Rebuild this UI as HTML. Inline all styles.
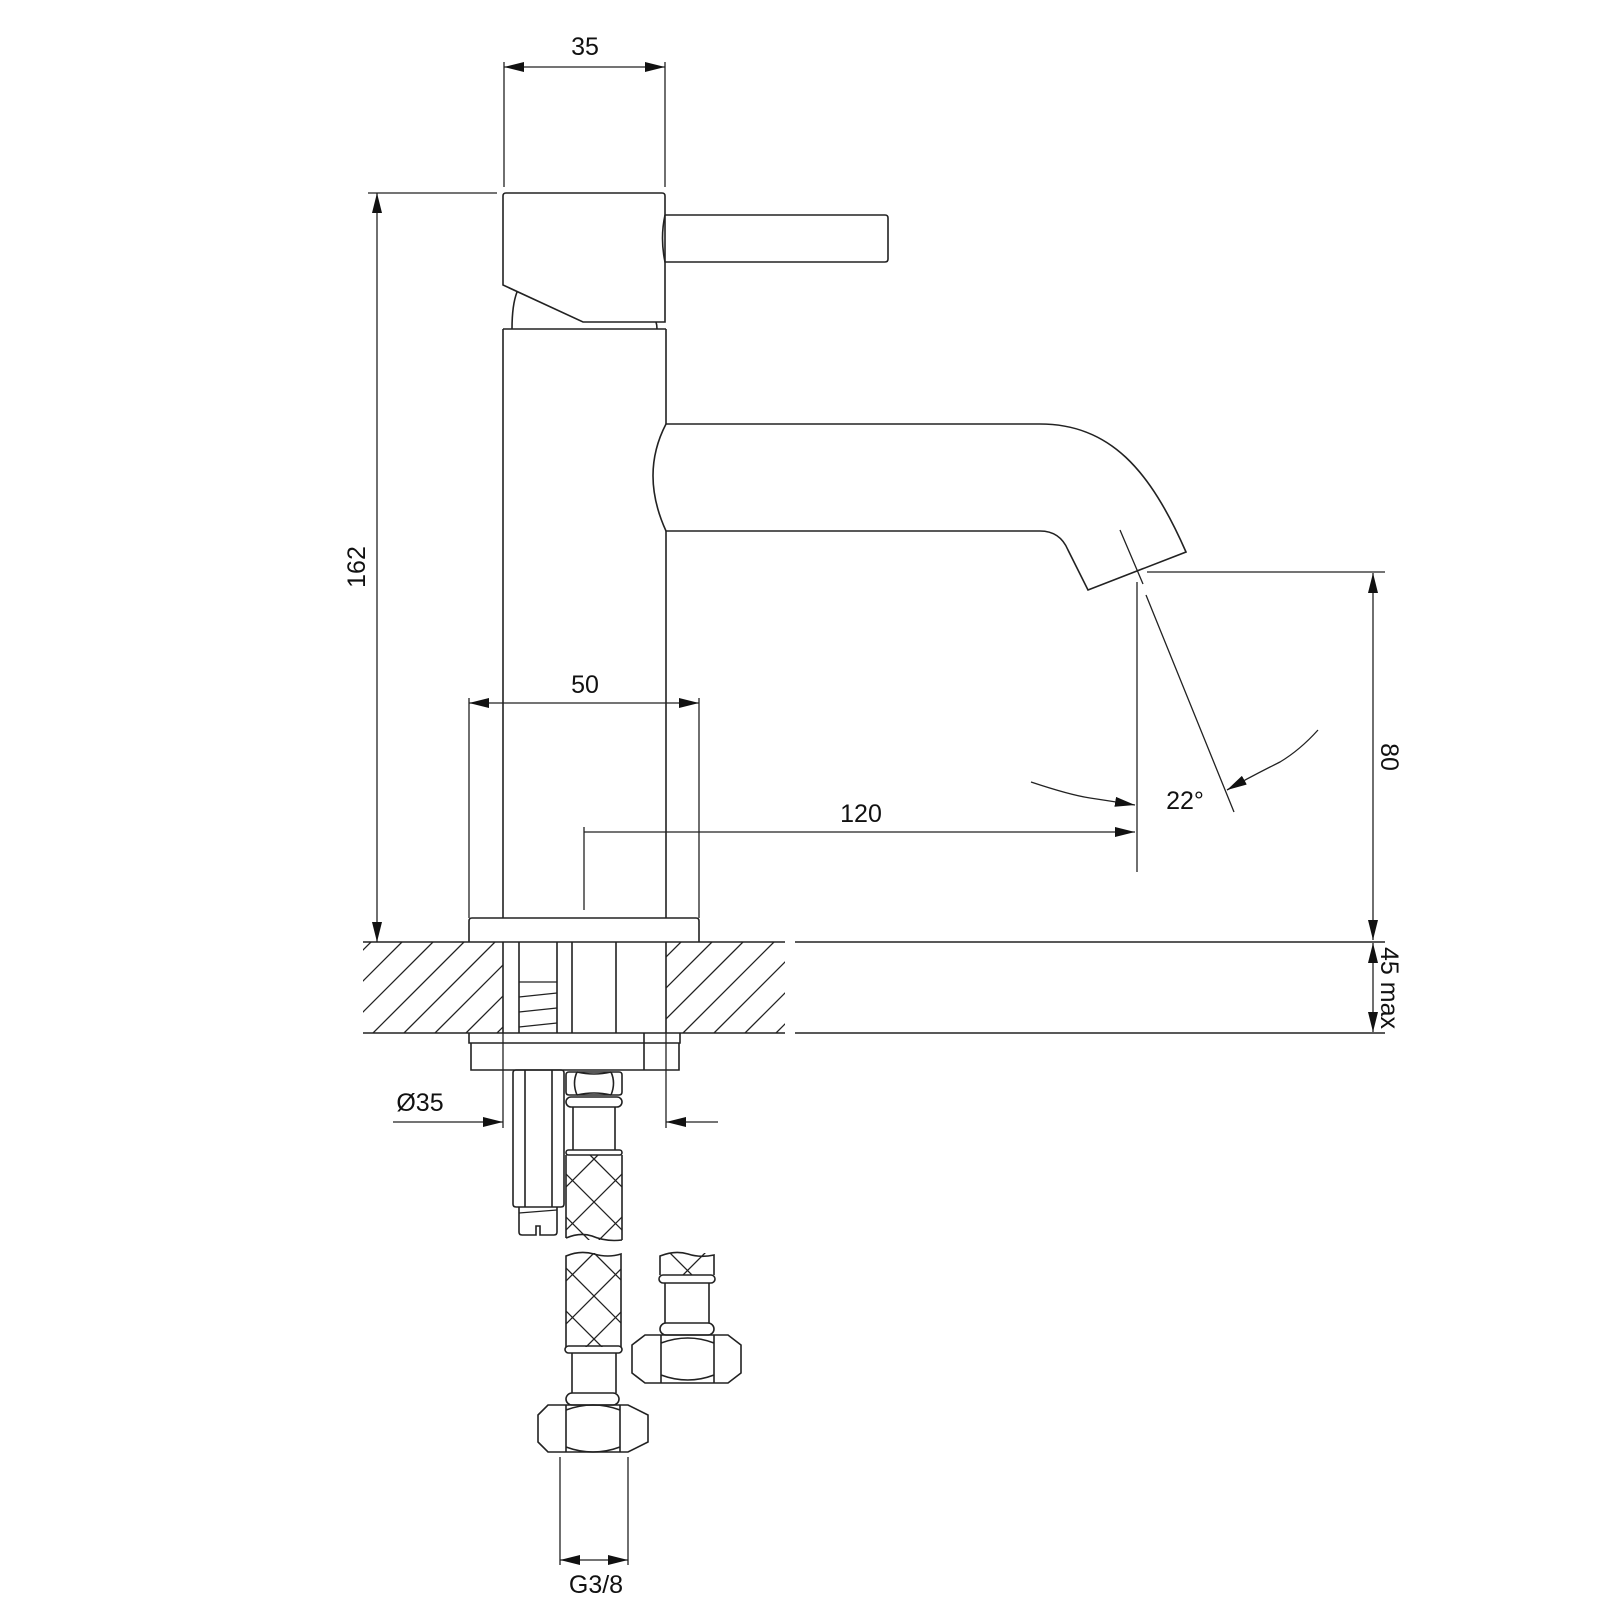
<!DOCTYPE html>
<html><head><meta charset="utf-8"><style>
html,body{margin:0;padding:0;background:#fff;}
svg{display:block;}
text{font-family:"Liberation Sans",sans-serif;font-size:25px;fill:#111;}
</style></head><body>
<svg width="1600" height="1600" viewBox="0 0 1600 1600" xmlns="http://www.w3.org/2000/svg">
<defs>
<marker id="a" viewBox="0 0 20 10" refX="20" refY="5" markerWidth="20" markerHeight="10" markerUnits="userSpaceOnUse" orient="auto-start-reverse"><path d="M0,0L20,5L0,10z" fill="#111"/></marker>
<clipPath id="hl"><rect x="363" y="942" width="140" height="91"/></clipPath>
<clipPath id="hr"><rect x="666" y="942" width="119" height="91"/></clipPath>
<clipPath id="b1"><rect x="566" y="1155" width="56" height="85"/></clipPath>
<clipPath id="b2"><rect x="566" y="1253" width="55" height="94"/></clipPath>
<clipPath id="b3"><rect x="660" y="1253" width="54" height="22"/></clipPath>
</defs>
<g fill="none" stroke="#222" stroke-width="1.6">
<path d="M503,285 L503,196 Q503,193 506,193 L662,193 Q665,193 665,196 L665,322 L583,322 Z"/>
<path d="M665,215 L885,215 Q888,215 888,218 L888,259 Q888,262 885,262 L665,262 Q660,238 665,215"/>
<path d="M512,329 Q512,305 517,292"/>
<path d="M657,329 Q657,325 656,322"/>
<path d="M503,329 L666,329 M503,329 L503,918 M666,329 L666,424 M666,531 L666,918"/>
<path d="M666,424 Q640,474 666,531"/>
<path d="M666,424 L1040,424 C1110,424 1150,470 1186,552 L1088,590 L1068,550 Q1060,531 1040,531 L666,531"/>
<path d="M1120,530 L1143,584 M1146,595 L1234,812" stroke-width="1.3"/>
<path d="M1137,582 L1137,872" stroke-width="1.3"/>
<path d="M1147,572 L1385,572" stroke-width="1.3"/>
<path d="M1031,782 Q1070,795 1090,798 Q1110,801 1135,805" marker-end="url(#a)" stroke-width="1.3"/>
<path d="M1318,730 Q1300,750 1280,762 Q1250,777 1227,790" marker-end="url(#a)" stroke-width="1.3"/>
<path d="M469,942 L469,921 Q469,918 472,918 L696,918 Q699,918 699,921 L699,942"/>
<path d="M363,942 L785,942 M363,1033 L785,1033 M795,942 L1385,942 M795,1033 L1385,1033" stroke-width="1.4"/>
<g clip-path="url(#hl)" stroke-width="1.3">
<path d="M280,1033 L371,942 M311,1033 L402,942 M342,1033 L433,942 M373,1033 L464,942 M404,1033 L495,942 M435,1033 L526,942 M466,1033 L557,942 M497,1033 L588,942"/>
</g>
<g clip-path="url(#hr)" stroke-width="1.3">
<path d="M590,1033 L681,942 M621,1033 L712,942 M652,1033 L743,942 M683,1033 L774,942 M714,1033 L805,942 M745,1033 L836,942 M776,1033 L867,942 M807,1033 L898,942"/>
</g>
<path d="M503,942 L503,1033 M666,942 L666,1033 M519,942 L519,1033 M557,942 L557,1033 M572,942 L572,1033 M616,942 L616,1033"/>
<path d="M519,982 L557,982 M519,997 L557,993 M519,1012 L557,1008 M519,1027 L557,1023" stroke-width="1.3"/>
<path d="M469,1033 L469,1043 L680,1043 L680,1033 M471,1043 L471,1070 L679,1070 L679,1043 M644,1033 L644,1070"/>
<path d="M503,1033 L503,1128 M666,1033 L666,1128" stroke-width="1.3"/>
<path d="M513,1073 Q513,1070 516,1070 L561,1070 Q564,1070 564,1073 L564,1204 Q564,1207 561,1207 L516,1207 Q513,1207 513,1204 Z"/>
<path d="M525,1070 L525,1207 M552,1070 L552,1207"/>
<path d="M519,1207 L519,1232 Q519,1235 522,1235 L536,1235 L536,1226 L540,1226 L540,1235 L554,1235 Q557,1235 557,1232 L557,1207"/>
<path d="M519,1213 L557,1210" stroke-width="1.2"/>
<path d="M569,1072 L619,1072 Q622,1072 622,1075 L622,1092 Q622,1095 619,1095 L569,1095 Q566,1095 566,1092 L566,1075 Q566,1072 569,1072 Z"/>
<path d="M577,1072 Q572,1083 577,1095 M611,1072 Q616,1083 611,1095 M577,1072 Q594,1076 611,1072 M577,1095 Q594,1091 611,1095"/>
<rect x="566" y="1097" width="56" height="10" rx="5"/>
<path d="M573,1107 L573,1150 M615,1107 L615,1150"/>
<rect x="566" y="1150" width="56" height="5" rx="2.5"/>
<path d="M566,1155 L566,1238 M622,1155 L622,1240 M566,1238 Q580,1232 592,1236 Q606,1242 622,1240"/>
<g clip-path="url(#b1)" stroke-width="1.3">
<path d="M504,1155 L604,1255 M547,1155 L647,1255 M590,1155 L690,1255 M461,1155 L561,1255 M684,1155 L584,1255 M641,1155 L541,1255 M598,1155 L498,1255"/>
</g>
<path d="M566,1347 L566,1256 Q580,1250 594,1254 Q608,1258 621,1254 L621,1347"/>
<g clip-path="url(#b2)" stroke-width="1.3">
<path d="M508,1253 L608,1353 M551,1253 L651,1353 M594,1253 L694,1353 M465,1253 L565,1353 M680,1253 L580,1353 M637,1253 L537,1353 M594,1253 L494,1353 M723,1253 L623,1353"/>
</g>
<rect x="565" y="1346" width="57" height="7" rx="3.5"/>
<path d="M572,1353 L572,1393 M616,1353 L616,1393"/>
<rect x="566" y="1393" width="53" height="12" rx="6"/>
<path d="M548,1405 L628,1405 L648,1415 L648,1442 L628,1452 L548,1452 L538,1442 L538,1415 Z"/>
<path d="M566,1405 L566,1452 M620,1405 L620,1452 M566,1410 Q593,1400 620,1410 M566,1447 Q593,1457 620,1447"/>
<path d="M560,1457 L560,1565 M628,1457 L628,1565" stroke-width="1.3"/>
<path d="M660,1275 L660,1256 Q675,1250 688,1254 Q700,1258 714,1255 L714,1275"/>
<g clip-path="url(#b3)" stroke-width="1.3">
<path d="M665,1248 L700,1283 M710,1248 L675,1283"/>
</g>
<rect x="659" y="1275" width="56" height="8" rx="4"/>
<path d="M665,1283 L665,1323 M709,1283 L709,1323"/>
<rect x="660" y="1323" width="54" height="12" rx="6"/>
<path d="M645,1335 L728,1335 L741,1345 L741,1373 L728,1383 L645,1383 L632,1373 L632,1345 Z"/>
<path d="M661,1335 L661,1383 M714,1335 L714,1383 M661,1343 Q688,1333 714,1343 M661,1375 Q688,1385 714,1375"/>
<g stroke-width="1.3">
<path d="M504,62 L504,187 M665,62 L665,187"/>
<path d="M504,67 L665,67" marker-start="url(#a)" marker-end="url(#a)"/>
<path d="M368,193 L497,193"/>
<path d="M377,193 L377,942" marker-start="url(#a)" marker-end="url(#a)"/>
<path d="M469,698 L469,918 M699,698 L699,918"/>
<path d="M469,703 L699,703" marker-start="url(#a)" marker-end="url(#a)"/>
<path d="M584,827 L584,910"/>
<path d="M584,832 L1135,832" marker-end="url(#a)"/>
<path d="M1373,573 L1373,940" marker-start="url(#a)" marker-end="url(#a)"/>
<path d="M1373,943 L1373,1032" marker-start="url(#a)" marker-end="url(#a)"/>
<path d="M393,1122 L503,1122" marker-end="url(#a)"/>
<path d="M718,1122 L666,1122" marker-end="url(#a)"/>
<path d="M560,1560 L628,1560" marker-start="url(#a)" marker-end="url(#a)"/>
</g>
</g>
<text x="585" y="55" text-anchor="middle">35</text>
<text x="585" y="693" text-anchor="middle">50</text>
<text x="861" y="822" text-anchor="middle">120</text>
<text x="1185" y="809" text-anchor="middle">22°</text>
<text x="420" y="1111" text-anchor="middle">Ø35</text>
<text x="596" y="1593" text-anchor="middle">G3/8</text>
<text transform="translate(365,567) rotate(-90)" text-anchor="middle">162</text>
<text transform="translate(1381,757) rotate(90)" text-anchor="middle">80</text>
<text transform="translate(1381,988) rotate(90)" text-anchor="middle">45 max</text>
</svg>
</body></html>
